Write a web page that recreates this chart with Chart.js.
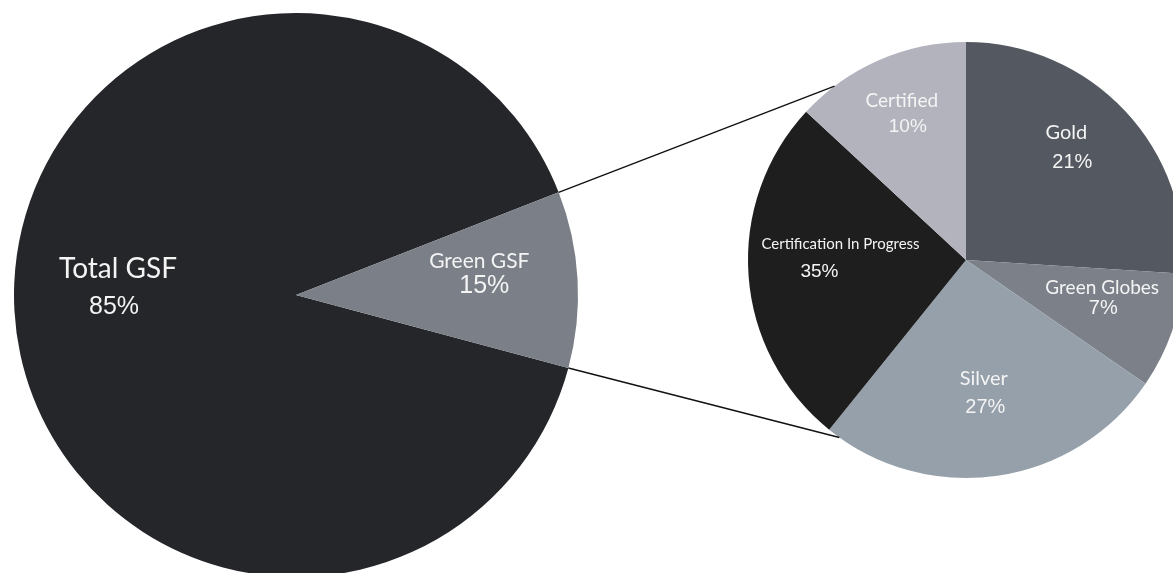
<!DOCTYPE html>
<html>
<head>
<meta charset="utf-8">
<title>GSF breakdown</title>
<script src="https://cdn.jsdelivr.net/npm/chart.js@4.4.1/dist/chart.umd.min.js"></script>
<style>
  html, body { margin: 0; padding: 0; background: #fff; width: 1173px; height: 573px; overflow: hidden; }
  #wrap { position: relative; width: 1173px; height: 573px; }
  #gsfChart { position: absolute; left: 0; top: 0; }
  #certChart { position: absolute; left: 520px; top: 0; }
</style>
</head>
<body>
<div id="wrap">
  <canvas id="gsfChart" width="600" height="600"></canvas>
  <canvas id="certChart" width="680" height="573"></canvas>
</div>
<script>
// Left pie: total vs green gross square footage
const gsfLabels = ['Total GSF', 'Green GSF'];
const gsfPct = [85, 15];          // printed percentages
const gsfShare = [89.9, 10.1];    // slice sizes as drawn in the picture

// Right pie: breakdown of the green part
const certLabels = ['Gold', 'Green Globes', 'Silver', 'Certification In Progress', 'Certified'];
const certPct = [21, 7, 27, 35, 10];
const certShare = [26.0, 8.6, 26.2, 26.1, 13.1];

const gsfColors = ['#25262a', '#7a7f88'];
const certColors = ['#545860', '#7b8089', '#96a0aa', '#1e1e1f', '#b3b3be'];

// Draw name + percent inside each slice
const sliceLabels = {
  id: 'sliceLabels',
  afterDatasetsDraw(chart, args, opts) {
    const ctx = chart.ctx;
    const arcs = chart.getDatasetMeta(0).data;
    const names = chart.data.labels;
    const pct = chart.data.datasets[0].pct;
    arcs.forEach((arc, i) => {
      const p = opts.place[i];
      const a = p.angle * Math.PI / 180;
      const x = arc.x + Math.cos(a) * arc.outerRadius * p.r;
      const y = arc.y + Math.sin(a) * arc.outerRadius * p.r;
      ctx.save();
      ctx.fillStyle = opts.color;
      ctx.textAlign = 'center';
      ctx.textBaseline = 'alphabetic';
      ctx.font = p.nameSize + 'px Lato';
      ctx.fillText(names[i], x, y);
      ctx.font = p.pctSize + 'px "Liberation Sans", Arial, sans-serif';
      ctx.fillText(pct[i] + '%', x + p.dx, y + p.dy);
      ctx.restore();
    });
  }
};

const pieDefaults = {
  responsive: false,
  maintainAspectRatio: false,
  animation: false,
  events: [],
  plugins: { legend: { display: false }, tooltip: { enabled: false } }
};

const gsfChart = new Chart(document.getElementById('gsfChart'), {
  type: 'pie',
  data: {
    labels: gsfLabels,
    datasets: [{
      data: gsfShare,
      pct: gsfPct,
      backgroundColor: gsfColors,
      borderWidth: 0,
      hoverOffset: 0,
      hoverBorderWidth: 0
    }]
  },
  options: {
    ...pieDefaults,
    rotation: 105,
    layout: { padding: { left: 14, right: 22, top: 13, bottom: 23 } },
    plugins: {
      ...pieDefaults.plugins,
      sliceLabels: {
        color: '#f4f4f4',
        place: [
          { angle: 185.4, r: 0.634, nameSize: 28, pctSize: 25, dx: -4, dy: 36 },
          { angle: -8.3, r: 0.657, nameSize: 21, pctSize: 25, dx: 5, dy: 25 }
        ]
      }
    }
  },
  plugins: [sliceLabels]
});

// Lines joining the green slice of the left pie to the right pie
const zoomLines = {
  id: 'zoomLines',
  afterDatasetsDraw(chart, args, opts) {
    const src = gsfChart.getDatasetMeta(0).data[1];
    const dst = chart.getDatasetMeta(0).data[0];
    const a = gsfChart.canvas.getBoundingClientRect();
    const b = chart.canvas.getBoundingClientRect();
    const ox = a.left - b.left, oy = a.top - b.top;
    const ends = [
      [src.startAngle, opts.toAngles[0]],
      [src.endAngle, opts.toAngles[1]]
    ];
    const ctx = chart.ctx;
    ctx.save();
    ctx.strokeStyle = opts.color;
    ctx.lineWidth = opts.width;
    ends.forEach(([from, toDeg]) => {
      const t = toDeg * Math.PI / 180;
      ctx.beginPath();
      ctx.moveTo(src.x + ox + Math.cos(from) * src.outerRadius, src.y + oy + Math.sin(from) * src.outerRadius);
      ctx.lineTo(dst.x + Math.cos(t) * dst.outerRadius, dst.y + Math.sin(t) * dst.outerRadius);
      ctx.stroke();
    });
    ctx.restore();
  }
};

const certChart = new Chart(document.getElementById('certChart'), {
  type: 'pie',
  data: {
    labels: certLabels,
    datasets: [{
      data: certShare,
      pct: certPct,
      backgroundColor: certColors,
      borderWidth: 0,
      hoverOffset: 0,
      hoverBorderWidth: 0
    }]
  },
  options: {
    ...pieDefaults,
    rotation: 0,
    layout: { padding: { left: 228, right: 16, top: 42, bottom: 95 } },
    plugins: {
      ...pieDefaults.plugins,
      zoomLines: { color: '#111', width: 1.4, toAngles: [232.9, 125.5] },
      sliceLabels: {
        color: '#f4f4f4',
        place: [
          { angle: -50.4, r: 0.722, nameSize: 20, pctSize: 20, dx: 6, dy: 29 },
          { angle: 14.0, r: 0.644, nameSize: 19, pctSize: 20, dx: 1, dy: 20 },
          { angle: 81.9, r: 0.579, nameSize: 20, pctSize: 20, dx: 1.5, dy: 28 },
          { angle: 185.0, r: 0.578, nameSize: 15, pctSize: 19, dx: -21, dy: 28 },
          { angle: 247.2, r: 0.76, nameSize: 19, pctSize: 19, dx: 6, dy: 25 }
        ]
      }
    }
  },
  plugins: [zoomLines, sliceLabels]
});
</script>
</body>
</html>
